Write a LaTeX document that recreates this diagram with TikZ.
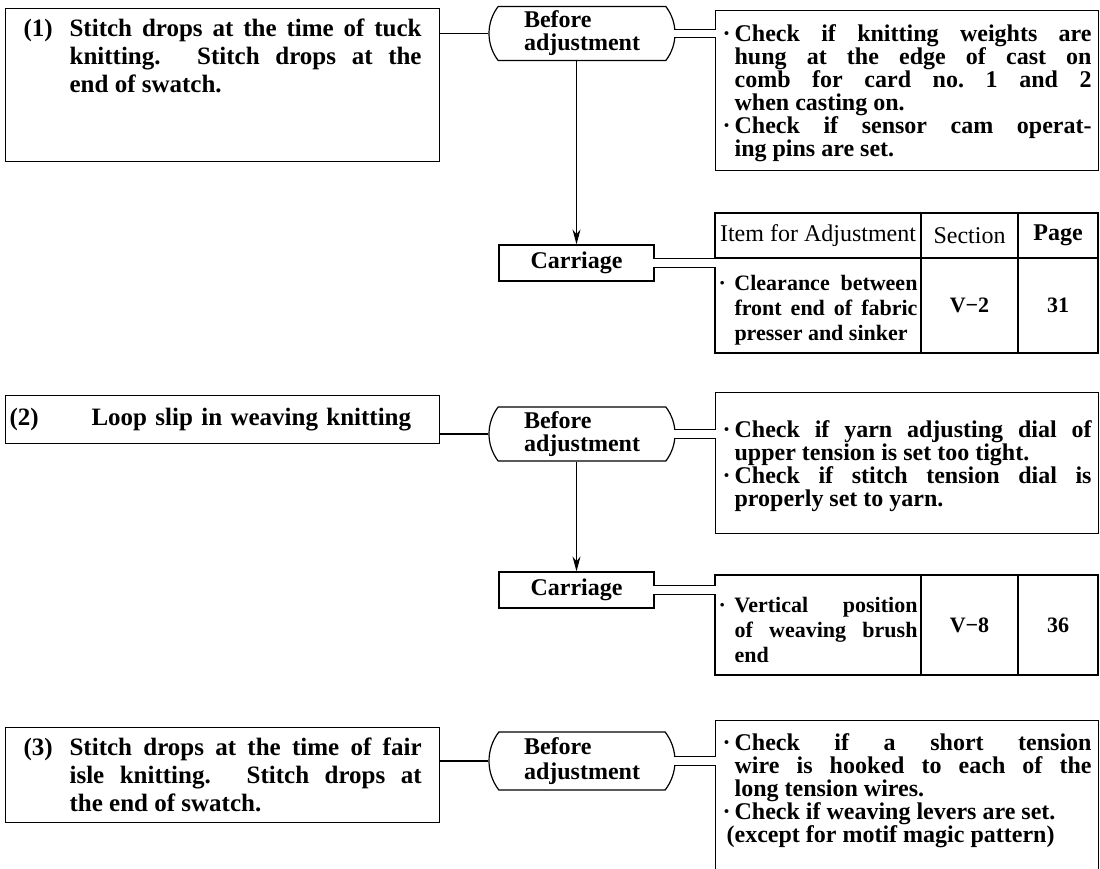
\documentclass[tikz,border=0pt]{standalone}
\usepackage{fontspec}
\setmainfont{Liberation Serif}
\usepackage{tikz}
\usetikzlibrary{arrows.meta, positioning, shapes.misc, calc}

\newcommand{\casefont}{\fontsize{25}{28}\selectfont\bfseries}
\newcommand{\checkfont}{\fontsize{24}{23}\selectfont\bfseries}
\newcommand{\beffont}{\fontsize{24}{23}\selectfont\bfseries}
\newcommand{\carfont}{\fontsize{24}{26}\selectfont\bfseries}
\newcommand{\headfont}{\fontsize{24}{26}\selectfont}
\newcommand{\cellfont}{\fontsize{22}{25}\selectfont\bfseries}
\newcommand{\chkitem}{\par\noindent\hangindent=12pt\hangafter=1\makebox[12pt][l]{·}}
\newcommand{\cellitem}{\par\noindent\hangindent=16pt\hangafter=1\makebox[16pt][l]{·}}
\newcommand{\caseno}[1]{\noindent\hangindent=46pt\hangafter=1\makebox[46pt][l]{#1}}
\tolerance=10000
\hbadness=10000

\begin{document}
\begin{tikzpicture}[
  x=1pt, y=-1pt,
  casebox/.style={draw, line width=1.2pt, anchor=north west, inner xsep=18pt, font=\casefont},
  befbox/.style={draw, rounded rectangle, rounded rectangle arc length=75, line width=1.2pt, minimum width=190pt, minimum height=54pt, inner sep=2pt, align=left, font=\beffont},
  carbox/.style={draw, line width=1.2pt, minimum width=155pt, minimum height=36pt, font=\carfont},
  chkbox/.style={draw, line width=1.2pt, anchor=north west, inner xsep=7pt, text width=369pt, align=justify, font=\checkfont},
  cell/.style={draw, line width=1.2pt, inner sep=0pt, outer sep=0pt, anchor=north west},
  conn/.style={line width=1.2pt},
  dbl/.style={double, double distance=7.4pt, line width=1.1pt},
  arr/.style={line width=1.2pt, -{Stealth[length=15pt, width=8pt]}},
]
\useasboundingbox (0,0) rectangle (1100,869);
\clip (0,0) rectangle (1100,869);

% Case 1
\node[casebox, inner ysep=10.7pt] (box1) at (5,8) {\parbox[c][131.6pt][t]{398pt}{\caseno{(1)}Stitch drops at the time of tuck\linebreak knitting. Stitch drops at the\linebreak end of swatch.\par}};
\node[befbox] (bef1) at (582,33.5) {Before\\adjustment};
\node[chkbox, minimum height=160pt] (chk1) at (715,10) {\chkitem Check if knitting weights are\linebreak hung at the edge of cast on\linebreak comb for card no.\ 1 and 2\linebreak when casting on.\chkitem Check if sensor cam operat-\linebreak ing pins are set.\par};
\node[carbox] (car1) at (576.5,263) {Carriage};

% Table 1
\node[cell, minimum width=206pt, minimum height=45pt, font=\headfont] (t1h1) at (715,213) {Item for Adjustment};
\node[cell, minimum width=97pt, minimum height=45pt, font=\headfont, right=0pt of t1h1] (t1h2) {Section};
\node[cell, minimum width=80pt, minimum height=45pt, font=\headfont\bfseries, right=0pt of t1h2] (t1h3) {Page};
\node[cell, minimum width=206pt, minimum height=95pt, text width=199pt, align=justify, font=\cellfont, below=0pt of t1h1] (t1b1) {\cellitem Clearance between\linebreak front end of fabric\linebreak presser and sinker\par};
\node[cell, minimum width=97pt, minimum height=95pt, font=\cellfont, below=0pt of t1h2] (t1b2) {V−2};
\node[cell, minimum width=80pt, minimum height=95pt, font=\cellfont, below=0pt of t1h3] (t1b3) {31};

% Case 2
\node[casebox, inner xsep=4pt, text width=426pt, minimum height=48pt, align=left] (box2) at (5,395) {\makebox[82pt][l]{(2)}Loop slip in weaving knitting};
\node[befbox] (bef2) at (582,434) {Before\\adjustment};
\node[chkbox, minimum height=141pt] (chk2) at (715,392) {\chkitem Check if yarn adjusting dial of\linebreak upper tension is set too tight.\chkitem Check if stitch tension dial is\linebreak properly set to yarn.\par};
\node[carbox] (car2) at (576.5,590) {Carriage};

% Table 2
\node[cell, minimum width=206pt, minimum height=100pt, text width=199pt, align=justify, font=\cellfont] (t2b1) at (715,575) {\cellitem Vertical position\linebreak of weaving brush\linebreak end\par};
\node[cell, minimum width=97pt, minimum height=100pt, font=\cellfont, right=0pt of t2b1] (t2b2) {V−8};
\node[cell, minimum width=80pt, minimum height=100pt, font=\cellfont, right=0pt of t2b2] (t2b3) {36};

% Case 3
\node[casebox, text width=398pt, align=justify, minimum height=95pt] (box3) at (5,727) {\caseno{(3)}Stitch drops at the time of fair\linebreak isle knitting. Stitch drops at\linebreak the end of swatch.\par};
\node[befbox, minimum height=58pt, font=\fontsize{24}{25}\selectfont\bfseries] (bef3) at (582,761) {Before\\adjustment};
\node[chkbox, inner ysep=13pt] (chk3) at (715,720) {\noindent\parbox[c][175pt][t]{369pt}{\chkitem Check if a short tension\linebreak wire is hooked to each of the\linebreak long tension wires.\chkitem Check if weaving levers are set.\par\noindent\hspace*{4pt}(except for motif magic pattern)\par}};

% Connectors
\draw[conn] (box1.east |- bef1.west) -- (bef1.west);
\draw[conn] (box2.east |- bef2.west) -- (bef2.west);
\draw[conn] (box3.east |- bef3.west) -- (bef3.west);
\draw[dbl] ([xshift=-2pt]bef1.east) -- ($(bef1.east -| chk1.west)+(1,0)$);
\draw[dbl] ([xshift=-2pt]bef2.east) -- ($(bef2.east -| chk2.west)+(1,0)$);
\draw[dbl] ([xshift=-2pt]bef3.east) -- ($(bef3.east -| chk3.west)+(1,0)$);
\draw[dbl] ([xshift=-2pt]car1.east) -- ($(car1.east -| t1b1.west)+(1,0)$);
\draw[dbl] ([xshift=-2pt]car2.east) -- ($(car2.east -| t2b1.west)+(1,0)$);
\draw[arr] (bef1.south -| car1.north) -- (car1.north);
\draw[arr] (bef2.south -| car2.north) -- (car2.north);

\end{tikzpicture}
\end{document}
